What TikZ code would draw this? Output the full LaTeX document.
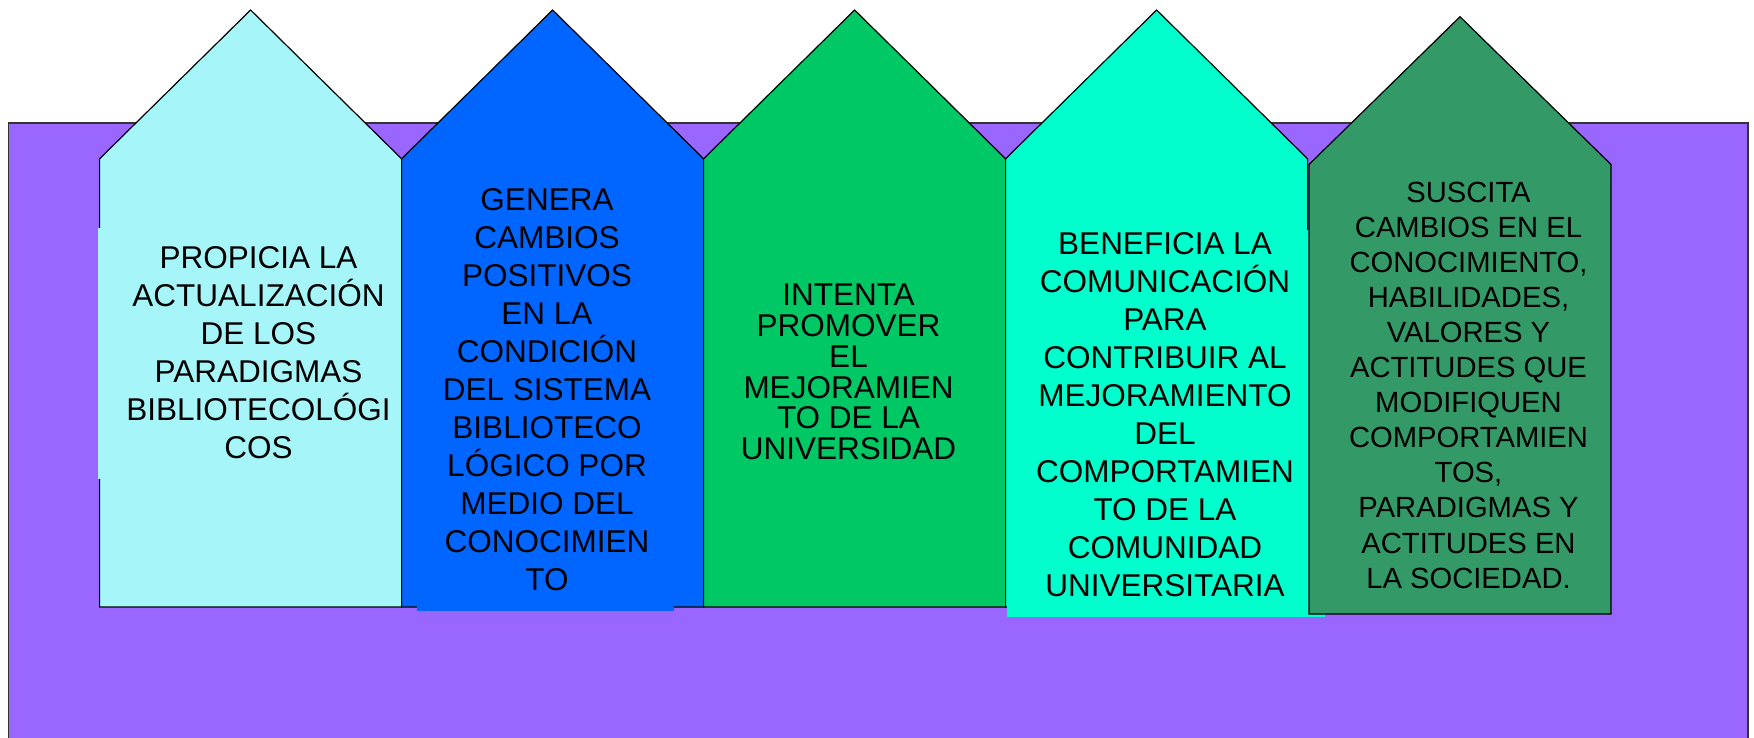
\documentclass[tikz,border=0pt]{standalone}
\usepackage{fontspec}
\setmainfont{Liberation Sans}
\definecolor{bgpurple}{HTML}{9966FF}
\definecolor{cA}{HTML}{A6F6F9}
\definecolor{cB}{HTML}{0066FF}
\definecolor{cC}{HTML}{00C864}
\definecolor{cD}{HTML}{00FFCC}
\definecolor{cE}{HTML}{339966}
\begin{document}
\begin{tikzpicture}[x=1pt,y=-1pt,
  penta/.style={draw=black,line width=1.2pt,line join=miter},
  txt/.style={align=center,inner sep=0pt,text=black,font=\fontsize{31.5}{38}\selectfont},
  txttight/.style={txt,font=\fontsize{31.5}{30.8}\selectfont},
  txtsmall/.style={txt,font=\fontsize{29.2}{35.1}\selectfont}]
\useasboundingbox (0,0) rectangle (1754,738);
\clip (0,0) rectangle (1754,738);
% background panel
\draw[draw=black!80,line width=1.2pt,fill=bgpurple] (8.5,123) rectangle (1748,760);
% pentagon 1
\draw[penta,fill=cA] (99.6,607) -- (99.6,158.8) -- (250.6,10) -- (401.6,158.8) -- (401.6,607) -- cycle;
\fill[cA] (98.2,228) rectangle (395,479);
\node[txt] (t1) at (258.5,353) {PROPICIA LA\\ACTUALIZACIÓN\\DE LOS\\PARADIGMAS\\BIBLIOTECOLÓGI\\COS};
% pentagon 2
\draw[penta,fill=cB] (401.6,607) -- (401.6,158.8) -- (552.6,10) -- (703.6,158.8) -- (703.6,607) -- cycle;
\fill[cB] (417,185) rectangle (674,611);
\node[txt] (t2) at (547,390) {GENERA\\CAMBIOS\\POSITIVOS\\EN LA\\CONDICIÓN\\DEL SISTEMA\\BIBLIOTECO\\LÓGICO POR\\MEDIO DEL\\CONOCIMIEN\\TO};
% pentagon 3
\draw[penta,fill=cC] (703.6,607) -- (703.6,158.8) -- (854.6,10) -- (1005.6,158.8) -- (1005.6,607) -- cycle;
\node[txttight] (t3) at (848.5,372) {INTENTA\\PROMOVER\\EL\\MEJORAMIEN\\TO DE LA\\UNIVERSIDAD};
% pentagon 4
\draw[penta,fill=cD] (1005.6,607) -- (1005.6,158.8) -- (1156.6,10) -- (1307.6,158.8) -- (1307.6,607) -- cycle;
\fill[cD] (1006.8,230) rectangle (1325,617);
\node[txt] (t4) at (1165,415) {BENEFICIA LA\\COMUNICACIÓN\\PARA\\CONTRIBUIR AL\\MEJORAMIENTO\\DEL\\COMPORTAMIEN\\TO DE LA\\COMUNIDAD\\UNIVERSITARIA};
% pentagon 5
\draw[penta,fill=cE] (1309,614) -- (1309,164.5) -- (1460,16.7) -- (1611,164.5) -- (1611,614) -- cycle;
\node[txtsmall] (t5) at (1468.5,385) {SUSCITA\\CAMBIOS EN EL\\CONOCIMIENTO,\\HABILIDADES,\\VALORES Y\\ACTITUDES QUE\\MODIFIQUEN\\COMPORTAMIEN\\TOS,\\PARADIGMAS Y\\ACTITUDES EN\\LA SOCIEDAD.};
\end{tikzpicture}
\end{document}
